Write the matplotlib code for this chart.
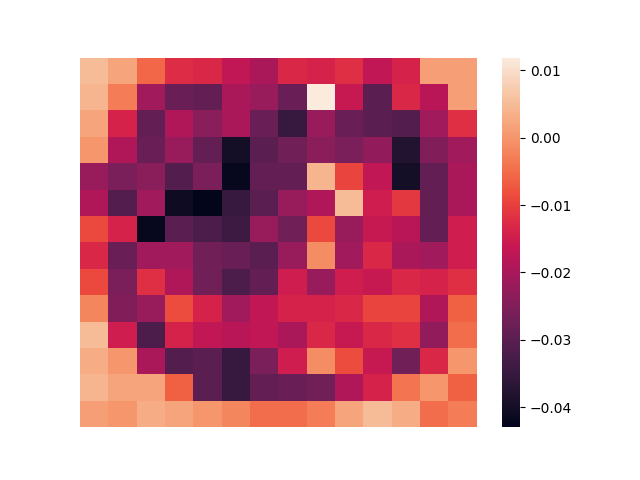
import matplotlib
matplotlib.use("Agg")
import matplotlib.pyplot as plt
import numpy as np
import seaborn as sns

row_00 = [0.005, 0.002, -0.0055, -0.0125, -0.013, -0.017, -0.020, -0.013, -0.014, -0.012, -0.017, -0.014, 0.001, 0.001]
row_01 = [0.004, -0.003, -0.021, -0.028, -0.029, -0.020, -0.022, -0.028, 0.0119, -0.016, -0.030, -0.013, -0.018, 0.001]
row_02 = [0.002, -0.014, -0.029, -0.019, -0.024, -0.020, -0.028, -0.035, -0.022, -0.028, -0.030, -0.031, -0.021, -0.012]
row_03 = [0.000, -0.019, -0.028, -0.022, -0.029, -0.040, -0.030, -0.027, -0.024, -0.026, -0.023, -0.038, -0.025, -0.021]
row_04 = [-0.022, -0.026, -0.024, -0.031, -0.026, -0.042, -0.029, -0.029, 0.004, -0.0095, -0.017, -0.040, -0.029, -0.020]
row_05 = [-0.019, -0.031, -0.021, -0.041, -0.043, -0.035, -0.030, -0.022, -0.019, 0.005, -0.015, -0.011, -0.029, -0.020]
row_06 = [-0.009, -0.014, -0.042, -0.030, -0.032, -0.034, -0.022, -0.027, -0.009, -0.022, -0.016, -0.018, -0.029, -0.015]
row_07 = [-0.013, -0.028, -0.021, -0.021, -0.027, -0.028, -0.030, -0.022, -0.001, -0.021, -0.013, -0.020, -0.021, -0.015]
row_08 = [-0.009, -0.026, -0.012, -0.019, -0.027, -0.032, -0.029, -0.015, -0.022, -0.015, -0.016, -0.013, -0.014, -0.012]
row_09 = [-0.002, -0.025, -0.022, -0.0085, -0.014, -0.021, -0.017, -0.014, -0.014, -0.013, -0.0095, -0.0095, -0.019, -0.0065]
row_10 = [0.005, -0.015, -0.032, -0.014, -0.017, -0.018, -0.017, -0.020, -0.013, -0.016, -0.013, -0.012, -0.023, -0.005]
row_11 = [0.003, 0.000, -0.020, -0.031, -0.030, -0.035, -0.026, -0.015, -0.001, -0.0085, -0.016, -0.027, -0.013, 0.000]
row_12 = [0.004, 0.002, 0.002, -0.0065, -0.030, -0.035, -0.029, -0.028, -0.027, -0.019, -0.014, -0.004, 0.000, -0.0065]
row_13 = [0.001, 0.000, 0.003, 0.002, 0.000, -0.002, -0.005, -0.005, -0.003, 0.002, 0.005, 0.003, -0.005, -0.003]

grid = np.array([
    row_00, row_01, row_02, row_03, row_04, row_05, row_06,
    row_07, row_08, row_09, row_10, row_11, row_12, row_13,
])

fig, ax = plt.subplots(figsize=(6.4, 4.8), dpi=100)
sns.heatmap(grid, ax=ax, xticklabels=False, yticklabels=False)

fig.savefig("out.png", dpi=100)
